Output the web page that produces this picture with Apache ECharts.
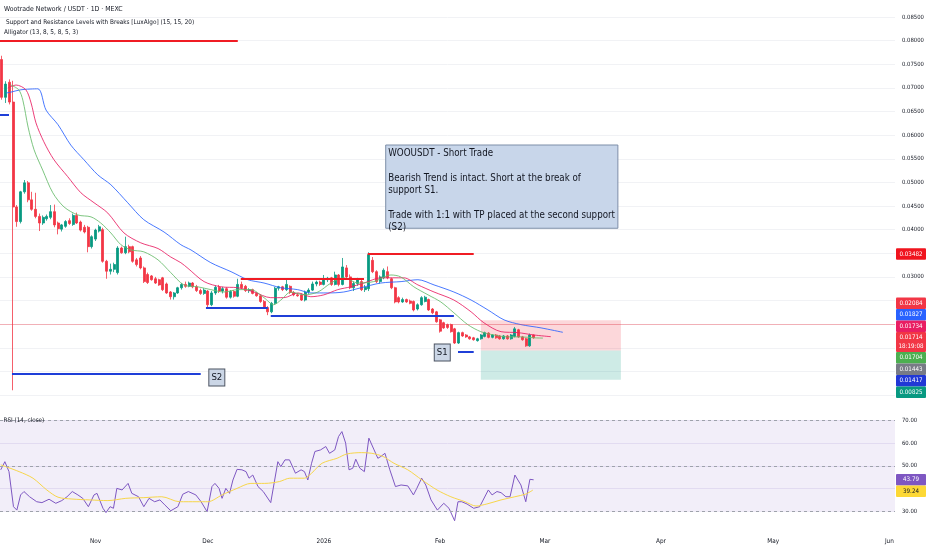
<!DOCTYPE html>
<html>
<head>
<meta charset="utf-8">
<script src="https://cdn.jsdelivr.net/npm/echarts@6/dist/echarts.min.js"></script>
<style>
html,body{margin:0;padding:0;background:#fff;}
#chart{width:932px;height:550px;}
</style>
</head>
<body>
<div id="chart"></div>
<script>
var FONT = '"Liberation Sans Narrow", "DejaVu Sans Condensed", "Liberation Sans", sans-serif';

// daily categories, 2025-10-07 .. 2026-06-02
var startDay = '2025-10-07';
var dayCount = 239;
var monthTicks = [['2025-11-01','Nov'],['2025-12-01','Dec'],['2026-01-01','2026'],['2026-02-01','Feb'],
  ['2026-03-01','Mar'],['2026-04-01','Apr'],['2026-05-01','May'],['2026-06-01','Jun']];

// [open, close, low, high], one per day from startDay
var candles = [
[0.0760,0.0680,0.0675,0.0768],[0.0680,0.0708,0.0668,0.0714],[0.0712,0.0670,0.0665,0.0718],[0.0670,0.0448,0.0060,0.0715],
[0.0448,0.0417,0.0406,0.0452],[0.0417,0.0480,0.0413,0.0482],[0.0480,0.0499,0.0476,0.0505],[0.0499,0.0463,0.0458,0.0503],
[0.0463,0.0443,0.0440,0.0480],[0.0443,0.0428,0.0424,0.0478],[0.0428,0.0414,0.0397,0.0434],[0.0414,0.0426,0.0410,0.0430],
[0.0423,0.0428,0.0419,0.0432],[0.0426,0.0438,0.0422,0.0452],[0.0438,0.0410,0.0405,0.0453],[0.0414,0.0402,0.0390,0.0417],
[0.0401,0.0410,0.0396,0.0412],[0.0407,0.0417,0.0404,0.0420],[0.0419,0.0413,0.0410,0.0424],[0.0411,0.0430,0.0408,0.0434],
[0.0430,0.0414,0.0412,0.0436],[0.0416,0.0399,0.0396,0.0419],[0.0405,0.0395,0.0392,0.0410],[0.0405,0.0364,0.0352,0.0408],
[0.0364,0.0385,0.0360,0.0388],[0.0380,0.0399,0.0376,0.0402],[0.0397,0.0406,0.0394,0.0410],[0.0400,0.0333,0.0330,0.0404],
[0.0333,0.0312,0.0296,0.0336],[0.0312,0.0316,0.0305,0.0328],[0.0316,0.0326,0.0310,0.0330],[0.0309,0.0361,0.0305,0.0365],
[0.0361,0.0351,0.0349,0.0364],[0.0351,0.0364,0.0348,0.0385],[0.0364,0.0353,0.0350,0.0368],[0.0364,0.0333,0.0330,0.0366],
[0.0336,0.0326,0.0322,0.0340],[0.0340,0.0319,0.0316,0.0344],[0.0319,0.0290,0.0287,0.0322],[0.0305,0.0288,0.0285,0.0309],
[0.0302,0.0294,0.0292,0.0304],[0.0296,0.0287,0.0285,0.0300],[0.0294,0.0283,0.0281,0.0296],[0.0298,0.0273,0.0270,0.0300],
[0.0285,0.0266,0.0264,0.0288],[0.0268,0.0258,0.0252,0.0270],[0.0258,0.0266,0.0252,0.0268],[0.0266,0.0277,0.0264,0.0279],
[0.0277,0.0284,0.0273,0.0287],[0.0284,0.0280,0.0277,0.0290],[0.0280,0.0287,0.0278,0.0290],[0.0287,0.0279,0.0276,0.0289],
[0.0279,0.0271,0.0268,0.0283],[0.0271,0.0265,0.0262,0.0275],[0.0265,0.0272,0.0262,0.0276],[0.0270,0.0241,0.0235,0.0272],
[0.0241,0.0266,0.0238,0.0270],[0.0266,0.0278,0.0262,0.0282],[0.0278,0.0270,0.0266,0.0283],[0.0270,0.0275,0.0265,0.0279],
[0.0275,0.0257,0.0254,0.0278],[0.0257,0.0269,0.0254,0.0272],[0.0269,0.0259,0.0256,0.0272],[0.0259,0.0284,0.0257,0.0296],
[0.0284,0.0277,0.0274,0.0290],[0.0280,0.0271,0.0268,0.0283],[0.0271,0.0273,0.0266,0.0276],[0.0273,0.0265,0.0263,0.0275],
[0.0265,0.0260,0.0258,0.0268],[0.0260,0.0248,0.0245,0.0263],[0.0248,0.0235,0.0232,0.0251],[0.0235,0.0226,0.0219,0.0238],
[0.0226,0.0244,0.0223,0.0247],[0.0244,0.0276,0.0241,0.0279],[0.0276,0.0279,0.0271,0.0281],[0.0279,0.0273,0.0270,0.0281],
[0.0273,0.0284,0.0270,0.0294],[0.0280,0.0267,0.0264,0.0282],[0.0267,0.0262,0.0259,0.0270],[0.0262,0.0260,0.0258,0.0266],
[0.0262,0.0251,0.0249,0.0265],[0.0251,0.0268,0.0248,0.0271],[0.0268,0.0272,0.0264,0.0276],[0.0272,0.0285,0.0270,0.0290],
[0.0285,0.0289,0.0280,0.0292],[0.0289,0.0284,0.0281,0.0292],[0.0284,0.0294,0.0282,0.0304],[0.0294,0.0297,0.0289,0.0300],
[0.0298,0.0284,0.0281,0.0300],[0.0284,0.0304,0.0282,0.0311],[0.0304,0.0284,0.0280,0.0306],[0.0284,0.0321,0.0282,0.0340],
[0.0319,0.0300,0.0297,0.0325],[0.0300,0.0277,0.0274,0.0305],[0.0277,0.0286,0.0270,0.0290],[0.0286,0.0294,0.0281,0.0298],
[0.0290,0.0273,0.0270,0.0294],[0.0273,0.0278,0.0268,0.0283],[0.0275,0.0347,0.0270,0.0352],[0.0335,0.0311,0.0308,0.0342],
[0.0311,0.0290,0.0287,0.0314],[0.0290,0.0300,0.0286,0.0303],[0.0298,0.0314,0.0295,0.0318],[0.0311,0.0298,0.0295,0.0322],
[0.0296,0.0277,0.0274,0.0298],[0.0277,0.0247,0.0244,0.0279],[0.0256,0.0247,0.0244,0.0259],[0.0247,0.0252,0.0245,0.0256],
[0.0252,0.0247,0.0245,0.0254],[0.0249,0.0244,0.0242,0.0252],[0.0248,0.0230,0.0227,0.0250],[0.0232,0.0241,0.0229,0.0244],
[0.0241,0.0256,0.0239,0.0259],[0.0248,0.0257,0.0246,0.0260],[0.0252,0.0230,0.0228,0.0254],[0.0232,0.0224,0.0221,0.0234],
[0.0226,0.0205,0.0203,0.0228],[0.0209,0.0185,0.0182,0.0211],[0.0203,0.0192,0.0190,0.0205],[0.0199,0.0193,0.0190,0.0201],
[0.0199,0.0184,0.0182,0.0201],[0.0190,0.0160,0.0158,0.0192],[0.0160,0.0182,0.0158,0.0184],[0.0182,0.0175,0.0173,0.0184],
[0.0177,0.0173,0.0171,0.0179],[0.0173,0.0169,0.0167,0.0175],[0.0171,0.0167,0.0165,0.0173],[0.0165,0.0169,0.0163,0.0171],
[0.0169,0.0177,0.0167,0.0179],[0.0174,0.0182,0.0172,0.0184],[0.0181,0.0172,0.0170,0.0183],[0.0172,0.0177,0.0170,0.0179],
[0.0177,0.0171,0.0169,0.0179],[0.0175,0.0169,0.0167,0.0177],[0.0169,0.0175,0.0167,0.0177],[0.0175,0.0169,0.0167,0.0177],
[0.0169,0.0177,0.0167,0.0179],[0.0174,0.0190,0.0172,0.0194],[0.0188,0.0173,0.0171,0.0190],[0.0173,0.0167,0.0165,0.0175],
[0.0169,0.0154,0.0152,0.0171],[0.0154,0.0177,0.0152,0.0180],[0.0177,0.01714,0.0169,0.0178]
];

// alligator lines: [day index, price]
var jawLine = [[1.1,0.0689],[2.4,0.0691],[5.1,0.0696],[9.6,0.0698],[11.8,0.0653],[15,0.0622],[18.4,0.0579],[21.9,0.0548],
  [25.6,0.0516],[29.1,0.0495],[33.6,0.0457],[37.9,0.0421],[43.3,0.0395],[47.8,0.0368],[50.5,0.0357],[55.8,0.0330],
  [61.2,0.0311],[65.7,0.0294],[70,0.0287],[74.5,0.0277],[79,0.0273],[82.5,0.0266],[87.1,0.0266],[91.3,0.0268],
  [95.9,0.0277],[101.2,0.0287],[106.6,0.0290],[111.1,0.0294],[115.4,0.0283],[120.7,0.0268],[125.3,0.0251],
  [129.8,0.0230],[134.1,0.0209],[138.6,0.0199],[144,0.0192],[149.8,0.01827]];
var teethLine = [[1.6,0.0700],[3.8,0.0706],[6.4,0.0696],[7.8,0.0668],[9.1,0.0626],[11.2,0.0586],[13.9,0.0548],[17.6,0.0512],
  [21.1,0.0478],[24.6,0.0457],[28.3,0.0435],[32.6,0.0393],[37.1,0.0372],[41.7,0.0360],[45.1,0.0342],[47.8,0.0330],
  [49.7,0.0318],[54,0.0290],[58.5,0.0279],[63,0.0277],[67.3,0.0268],[71.8,0.0256],[75.3,0.0256],[79.1,0.0266],
  [82.5,0.0258],[86,0.0262],[89.7,0.0273],[93.2,0.0279],[96.7,0.0287],[101.2,0.0298],[107.3,0.0298],[111.1,0.0283],
  [115.4,0.0268],[120.7,0.0251],[125.3,0.0226],[128.7,0.0203],[133.3,0.0184],[137.8,0.0182],[142.1,0.0177],[146.6,0.01734]];
var lipsLine = [[2.4,0.0706],[4.5,0.0696],[5.6,0.0674],[7,0.0617],[8.6,0.0569],[10.9,0.0526],[13.6,0.0478],[16.6,0.0448],
  [20.3,0.0431],[23.8,0.0427],[26.4,0.0414],[29.1,0.0393],[31.8,0.0368],[34.5,0.0357],[37.9,0.0353],[41.7,0.0336],
  [45.1,0.0309],[48.6,0.0283],[52.3,0.0279],[55.8,0.0273],[59.3,0.0268],[63,0.0273],[66.5,0.0273],[70,0.0256],
  [72.6,0.0241],[74.5,0.0251],[77.2,0.0268],[80.7,0.0262],[84.4,0.0268],[87.9,0.0287],[91.3,0.0298],[95.1,0.0287],
  [99.3,0.0290],[103.9,0.0304],[106.5,0.0300],[110,0.0279],[113.8,0.0262],[117.2,0.0247],[120.7,0.0224],[124.4,0.0199],
  [127.9,0.0184],[131.4,0.0177],[135.1,0.0173],[138.6,0.0173],[142.1,0.0171],[144.5,0.01704]];

// RSI(14) and its MA: [day index, value]
var rsiLine = [[-0.3,48.2],[0.8,51.8],[1.9,47.4],[3.1,31.9],[4,30.4],[5,37.1],[5.9,38.6],[7.4,36.3],[9.3,34.1],[10.7,33.7],
  [12.6,35.2],[14.4,33.4],[16,34.6],[17.4,36.3],[18.8,38.6],[20.3,37.1],[21.6,35.6],[23.1,31.9],[24.6,37.1],[25.4,37.8],
  [27,31.2],[27.8,29.3],[28.9,31.9],[29.8,31.2],[30.7,40.0],[32.1,39.3],[33.7,42.2],[34.7,37.8],[36.5,36.3],[37.9,31.9],
  [39.3,35.6],[40.8,34.1],[42.2,34.9],[43.5,32.7],[45.1,30.1],[47,31.9],[48.3,37.4],[49.8,38.6],[51.8,37.1],[53.2,34.1],
  [54.8,29.7],[56.1,40.8],[56.9,42.2],[58,40.0],[58.8,35.6],[59.8,40.0],[60.8,37.8],[61.7,43.7],[62.8,48.4],[64.1,48.2],
  [65.2,47.4],[66,44.5],[67,45.9],[68.4,40.8],[69.8,38.6],[71.8,33.7],[73.7,51.8],[74.5,49.6],[75.6,52.6],[76.8,52.6],
  [78.4,46.7],[79.9,48.2],[80.8,47.4],[81.7,43.7],[82.7,51.1],[83.6,56.3],[85.1,57.0],[86.5,58.5],[87.5,55.5],[88.9,57.0],
  [89.9,62.9],[90.8,65.1],[91.8,60.0],[92.7,48.2],[93.7,48.9],[94.5,52.9],[95.6,48.9],[96.8,47.4],[98,62.2],[99.4,57.0],
  [100.4,53.3],[101.2,54.1],[102.3,55.5],[103.6,48.2],[105.1,40.8],[106.6,41.5],[108.4,41.1],[109.9,37.1],[110.8,40.0],
  [112.1,44.5],[113.2,41.5],[114.6,34.9],[116.3,30.4],[118,33.4],[119.4,31.2],[120.9,25.7],[121.8,34.1],[122.8,34.1],
  [124.2,33.1],[126,31.2],[127.6,31.9],[129.9,39.3],[130.9,37.1],[132.2,38.6],[133.3,38.1],[134.6,36.3],[135.7,36.3],
  [137,45.9],[138.6,41.5],[139.9,34.1],[141,44.0],[142,43.79]];
var rsiMaLine = [[-0.3,50.4],[4.6,47.4],[8.3,44.5],[12,39.3],[15,36.1],[18.7,35.3],[23.5,34.9],[28.3,34.6],[33.1,35.6],
  [37.9,35.9],[42.7,36.3],[47.4,34.1],[52.1,34.1],[55,34.1],[58.8,37.1],[62.8,40.0],[66.5,42.2],[70.2,42.2],[74.1,43.0],
  [76.9,44.5],[80.8,44.5],[82.7,46.7],[85.5,51.1],[89.5,53.3],[92.1,55.2],[96.1,55.8],[98.8,55.5],[101.8,54.1],[104.7,51.1],
  [108.4,48.2],[112.2,43.7],[116.2,39.3],[119.9,36.3],[123.7,34.1],[126.6,32.2],[129.5,33.1],[133.3,34.9],[137,36.3],
  [139.9,37.5],[141.8,39.24]];

// support / resistance segments: [from day, to day, price]
var resistanceLevels = [[-0.5,63,0.0800],[63.8,96.7,0.0295],[97.7,126,0.03482]];
var supportLevels = [[-0.5,1.9,0.0643],[2.7,53.1,0.0096],[54.5,71,0.0234],[71.8,120.7,0.0217],[121.8,126,0.01417]];
var supportTags = [['S1',117.6,0.0140],['S2',57.4,0.0087]];

// short position: entry, stop, target, time span
var tradeEntry = 0.01443, tradeStop = 0.02084, tradeTarget = 0.00825, tradeSpan = [127.9,165.3];
var lastPrice = 0.01714;

var noteLines = ['WOOUSDT - Short Trade','','Bearish Trend is intact. Short at the break of','support S1.','',
  'Trade with 1:1 with TP placed at the second support','(S2)'];
var noteBox = [[102.5,0.05791],[164.5,0.04029]];

var priceTags = [
  {v:0.03482, t:'0.03482', bg:'#f0141e'},
  {v:0.02084, t:'0.02084', bg:'#f23645'},
  {v:0.01827, t:'0.01827', bg:'#2962ff'},
  {v:0.01734, t:'0.01734', bg:'#e91e63'},
  {v:0.01714, t:'0.01714\n18:19:08', bg:'#f23645', lines:2, anchor:true},
  {v:0.01704, t:'0.01704', bg:'#4caf50'},
  {v:0.01443, t:'0.01443', bg:'#787b86'},
  {v:0.01417, t:'0.01417', bg:'#2138d6'},
  {v:0.00825, t:'0.00825', bg:'#089981'}
];
var rsiTags = [
  {v:43.79, t:'43.79', bg:'#7e57c2', fg:'#fff'},
  {v:39.24, t:'39.24', bg:'#fdd835', fg:'#131722'}
];

var days = [];
var d0 = new Date(startDay + 'T00:00:00Z');
for (var i = 0; i < dayCount; i++) {
  days.push(new Date(d0.getTime() + i * 86400000).toISOString().slice(0, 10));
}
var tickMap = {};
monthTicks.forEach(function (m) { tickMap[m[0]] = m[1]; });

var levelData = [];
resistanceLevels.forEach(function (l) {
  levelData.push([{coord:[l[0], l[2]], lineStyle:{color:'#f01c24', width:2, type:'solid'}}, {coord:[l[1], l[2]]}]);
});
supportLevels.forEach(function (l) {
  levelData.push([{coord:[l[0], l[2]], lineStyle:{color:'#1f3fd8', width:2, type:'solid'}}, {coord:[l[1], l[2]]}]);
});

var chart = echarts.init(document.getElementById('chart'));
var option = {
  animation: false,
  backgroundColor: '#fff',
  textStyle: {fontFamily: FONT},
  title: [
    {text:'Wootrade Network / USDT · 1D · MEXC', left:4, top:6, padding:0,
      textStyle:{fontSize:6.9, fontWeight:'normal', color:'#131722', fontFamily:FONT}},
    {text:'Support and Resistance Levels with Breaks [LuxAlgo] (15, 15, 20)', left:6, top:19.5, padding:0,
      textStyle:{fontSize:6.4, fontWeight:'normal', color:'#131722', fontFamily:FONT}},
    {text:'Alligator (13, 8, 5, 8, 5, 3)', left:4, top:29.5, padding:0,
      textStyle:{fontSize:6.4, fontWeight:'normal', color:'#131722', fontFamily:FONT}},
    {text:'RSI (14, close)', left:3.5, top:417.5, padding:0,
      textStyle:{fontSize:6.3, fontWeight:'normal', color:'#131722', fontFamily:FONT}}
  ],
  grid: [
    {left:0, right:37, top:17, height:378},
    {left:0, right:37, top:420.5, height:90.5}
  ],
  xAxis: [
    {type:'category', gridIndex:0, data:days, show:false},
    {type:'category', gridIndex:1, data:days,
      axisLine:{show:false}, axisTick:{show:false}, splitLine:{show:false},
      axisLabel:{
        interval:function (idx, val) { return tickMap[val] !== undefined; },
        formatter:function (val) { return tickMap[val] || ''; },
        fontSize:6.4, color:'#131722', margin:27, fontFamily:FONT
      }},
    {type:'value', gridIndex:0, min:-0.5, max:dayCount - 0.5, show:false},
    {type:'value', gridIndex:1, min:-0.5, max:dayCount - 0.5, show:false}
  ],
  yAxis: [
    {type:'value', gridIndex:0, position:'right', min:0.005, max:0.085, interval:0.005,
      axisLine:{show:false}, axisTick:{show:false},
      splitLine:{lineStyle:{color:'#f1f2f5', width:1}},
      axisLabel:{fontSize:5.9, color:'#131722', margin:7, fontFamily:FONT,
        formatter:function (v) { return (v > 0.0299 && Math.abs(v - 0.035) > 1e-6) ? v.toFixed(5) : ''; }}},
    {type:'value', gridIndex:1, position:'right', min:30, max:70, interval:10,
      axisLine:{show:false}, axisTick:{show:false},
      splitLine:{lineStyle:{color:'#eeeaf6', width:1}},
      axisLabel:{fontSize:5.9, color:'#131722', margin:7, fontFamily:FONT,
        formatter:function (v) { return v === 40 ? '' : v.toFixed(2); }}}
  ],
  series: [
    {
      name:'WOOUSDT', type:'candlestick', xAxisIndex:0, yAxisIndex:0,
      data:candles, barWidth:2.5,
      itemStyle:{color:'#089981', color0:'#f23645', borderColor:'#089981', borderColor0:'#f23645', borderWidth:0.8},
      markLine:{silent:true, symbol:'none', label:{show:false},
        lineStyle:{color:'#f23645', opacity:0.35, type:'solid', width:1},
        data:[{yAxis:lastPrice}]}
    },
    {
      name:'Jaw', type:'line', xAxisIndex:2, yAxisIndex:0, data:jawLine,
      smooth:0.3, showSymbol:false, lineStyle:{color:'#2962ff', width:1, opacity:0.85},
      markLine:{silent:true, symbol:'none', label:{show:false},
        lineStyle:{type:'solid'}, data:levelData},
      markArea:{silent:true, data:[
        [{coord:[tradeSpan[0], tradeStop], itemStyle:{color:'rgba(242,54,69,0.2)'}}, {coord:[tradeSpan[1], tradeEntry]}],
        [{coord:[tradeSpan[0], tradeEntry], itemStyle:{color:'rgba(8,153,129,0.2)'}}, {coord:[tradeSpan[1], tradeTarget]}],
        [{coord:noteBox[0], itemStyle:{color:'#c8d6ea', borderColor:'#7d8ea8', borderWidth:1},
          label:{show:true, position:'insideTopLeft', distance:3, formatter:noteLines.join('\n'),
            color:'#131722', fontSize:9.7, lineHeight:12.3, fontFamily:FONT}},
         {coord:noteBox[1]}]
      ]},
      markPoint:{silent:true, symbol:'rect', symbolSize:[16,17],
        itemStyle:{color:'#cbd6e6', borderColor:'#4b5260', borderWidth:1},
        label:{show:true, color:'#131722', fontSize:9.5, fontFamily:FONT, formatter:'{b}'},
        data:supportTags.map(function (s) { return {name:s[0], coord:[s[1], s[2]]}; })}
    },
    {
      name:'Teeth', type:'line', xAxisIndex:2, yAxisIndex:0, data:teethLine,
      smooth:0.3, showSymbol:false, lineStyle:{color:'#e91e63', width:1, opacity:0.85}
    },
    {
      name:'Lips', type:'line', xAxisIndex:2, yAxisIndex:0, data:lipsLine,
      smooth:0.3, showSymbol:false, lineStyle:{color:'#66bb6a', width:1, opacity:0.85}
    },
    {
      name:'RSI', type:'line', xAxisIndex:3, yAxisIndex:1, data:rsiLine, clip:false,
      showSymbol:false, lineStyle:{color:'#7e57c2', width:1},
      markArea:{silent:true, itemStyle:{color:'rgba(126,87,194,0.1)'},
        data:[[{coord:[-0.5, 70]}, {coord:[dayCount - 0.5, 30]}]]},
      markLine:{silent:true, symbol:'none', label:{show:false},
        lineStyle:{color:'#9ea2ab', type:[3,3], width:1},
        data:[{yAxis:70},{yAxis:50},{yAxis:30}]}
    },
    {
      name:'RSI MA', type:'line', xAxisIndex:3, yAxisIndex:1, data:rsiMaLine, clip:false,
      smooth:0.3, showSymbol:false, lineStyle:{color:'#f7d64a', width:1}
    }
  ]
};
chart.setOption(option);

// price-scale tags, stacked so they do not overlap
function buildTags(tags, axisIdx) {
  var h1 = 11.5, out = [];
  var boxes = tags.map(function (t) {
    var y = chart.convertToPixel({yAxisIndex:axisIdx}, t.v);
    return {t:t, y:y, h:h1 * (t.lines || 1) - (t.lines > 1 ? 3 : 0)};
  });
  var a = 0;
  boxes.forEach(function (b, i) { if (b.t.anchor) a = i; });
  boxes[a].top = boxes[a].y - h1 / 2;
  for (var i = a - 1; i >= 0; i--) {
    var bottom = Math.min(boxes[i].y + h1 / 2, boxes[i + 1].top);
    boxes[i].top = bottom - boxes[i].h;
  }
  for (var j = a + 1; j < boxes.length; j++) {
    boxes[j].top = Math.max(boxes[j].y - h1 / 2, boxes[j - 1].top + boxes[j - 1].h);
  }
  var x0 = chart.getWidth() - 36;
  boxes.forEach(function (b) {
    out.push({type:'rect', z:100, shape:{x:x0, y:b.top, width:30, height:b.h, r:1}, style:{fill:b.t.bg}});
    out.push({type:'text', z:101, style:{x:x0 + 15, y:b.top + b.h / 2, text:b.t.t, fill:b.t.fg || '#fff',
      font:'6.2px ' + FONT, align:'center', verticalAlign:'middle', lineHeight:9}});
  });
  return out;
}
chart.setOption({graphic: buildTags(priceTags, 0).concat(buildTags(rsiTags, 1))});
</script>
</body>
</html>
